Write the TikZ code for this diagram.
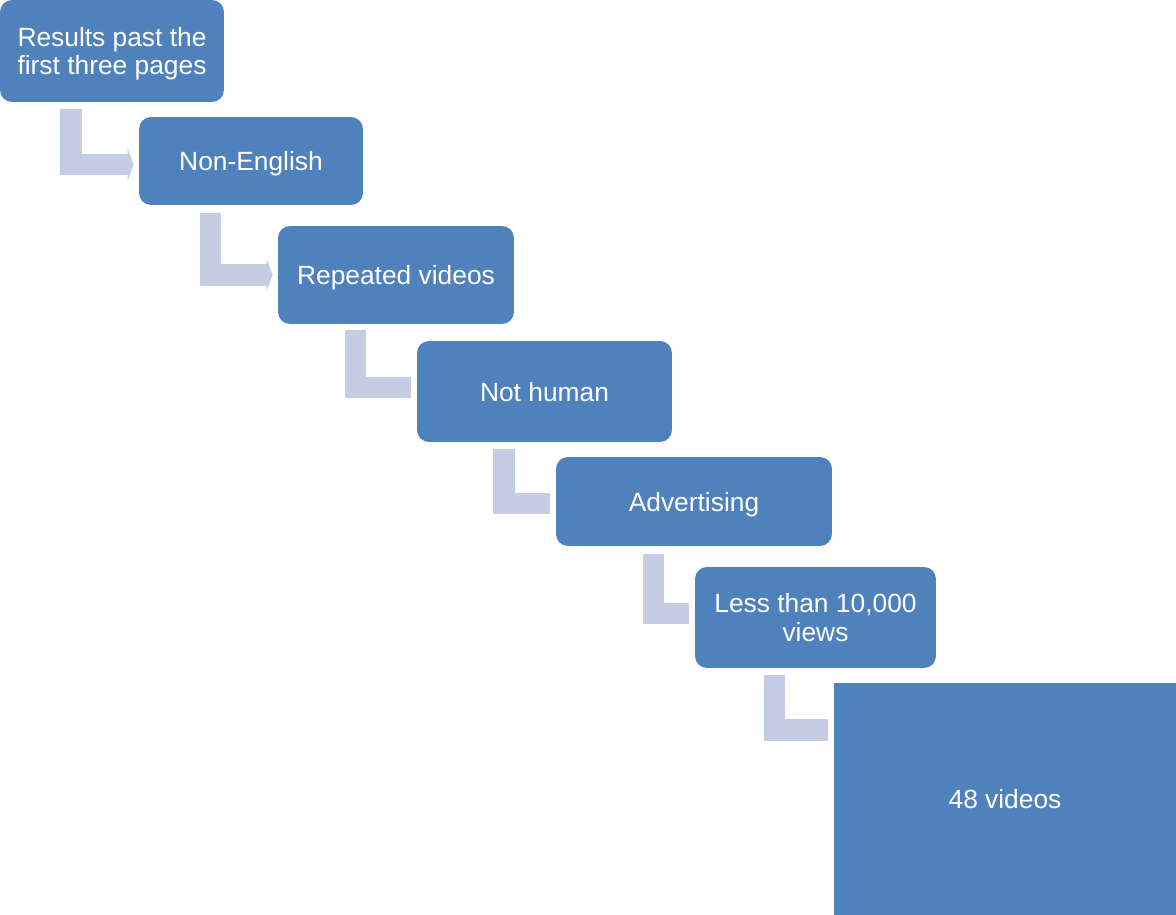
\documentclass[tikz,border=0pt]{standalone}
\usepackage{fontspec}
\setmainfont{Liberation Sans}
\usepackage{xcolor}
\usetikzlibrary{arrows.meta}
\usetikzlibrary{calc}
\definecolor{myblue}{RGB}{79,129,189}
\definecolor{mylilac}{RGB}{197,204,228}

\tikzset{
stage/.style={fill=myblue, text=white, rounded corners=0.24cm, align=center, inner sep=0pt, text depth=0pt, font=\fontsize{15}{16}\selectfont},
link/.style={draw=mylilac, line width=0.43cm, line cap=butt, line join=miter},
linkhead/.style={link, -{Triangle[length=0.12cm, width=0.64cm]}},
}

\begin{document}
\begin{tikzpicture}[x=0.02cm, y=0.02cm]
\useasboundingbox (0,0) rectangle (1176,-915);

\node[stage, minimum width=4.48cm, minimum height=2.04cm] (r1) at (112,-51) {Results past the\\first three pages};
\node[stage, minimum width=4.48cm, minimum height=1.76cm] (r2) at (251,-161) {Non-English};
\node[stage, minimum width=4.72cm, minimum height=1.96cm] (r3) at (396,-275) {Repeated videos};
\node[stage, minimum width=5.10cm, minimum height=2.02cm] (r4) at (544.5,-391.5) {Not human};
\node[stage, minimum width=5.52cm, minimum height=1.78cm] (r5) at (694,-501.5) {Advertising};
\node[stage, minimum width=4.82cm, minimum height=2.02cm] (r6) at (815.5,-617.5) {Less than 10,000\\views};
\node[stage, rounded corners=0pt, minimum width=6.84cm, minimum height=4.64cm] (r7) at (1005,-799) {48 videos};

% bent arrows between the stages
\draw[linkhead] ($(r1.south west)+(71.5,-7)$) |- ($(r2.west)+(-5,-3.5)$);
\draw[linkhead] ($(r2.south west)+(72,-8)$) |- ($(r3.west)+(-5,0)$);
\draw[link] ($(r3.south west)+(78,-6)$) |- ($(r4.west)+(-6,4)$);
\draw[link] ($(r4.south west)+(87.5,-7)$) |- ($(r5.west)+(-6,-2)$);
\draw[link] ($(r5.south west)+(98,-8)$) |- ($(r6.west)+(-6,4)$);
\draw[link] ($(r6.south west)+(80,-7)$) |- ($(r7.north west)+(-6,-47.5)$);

\end{tikzpicture}
\end{document}
